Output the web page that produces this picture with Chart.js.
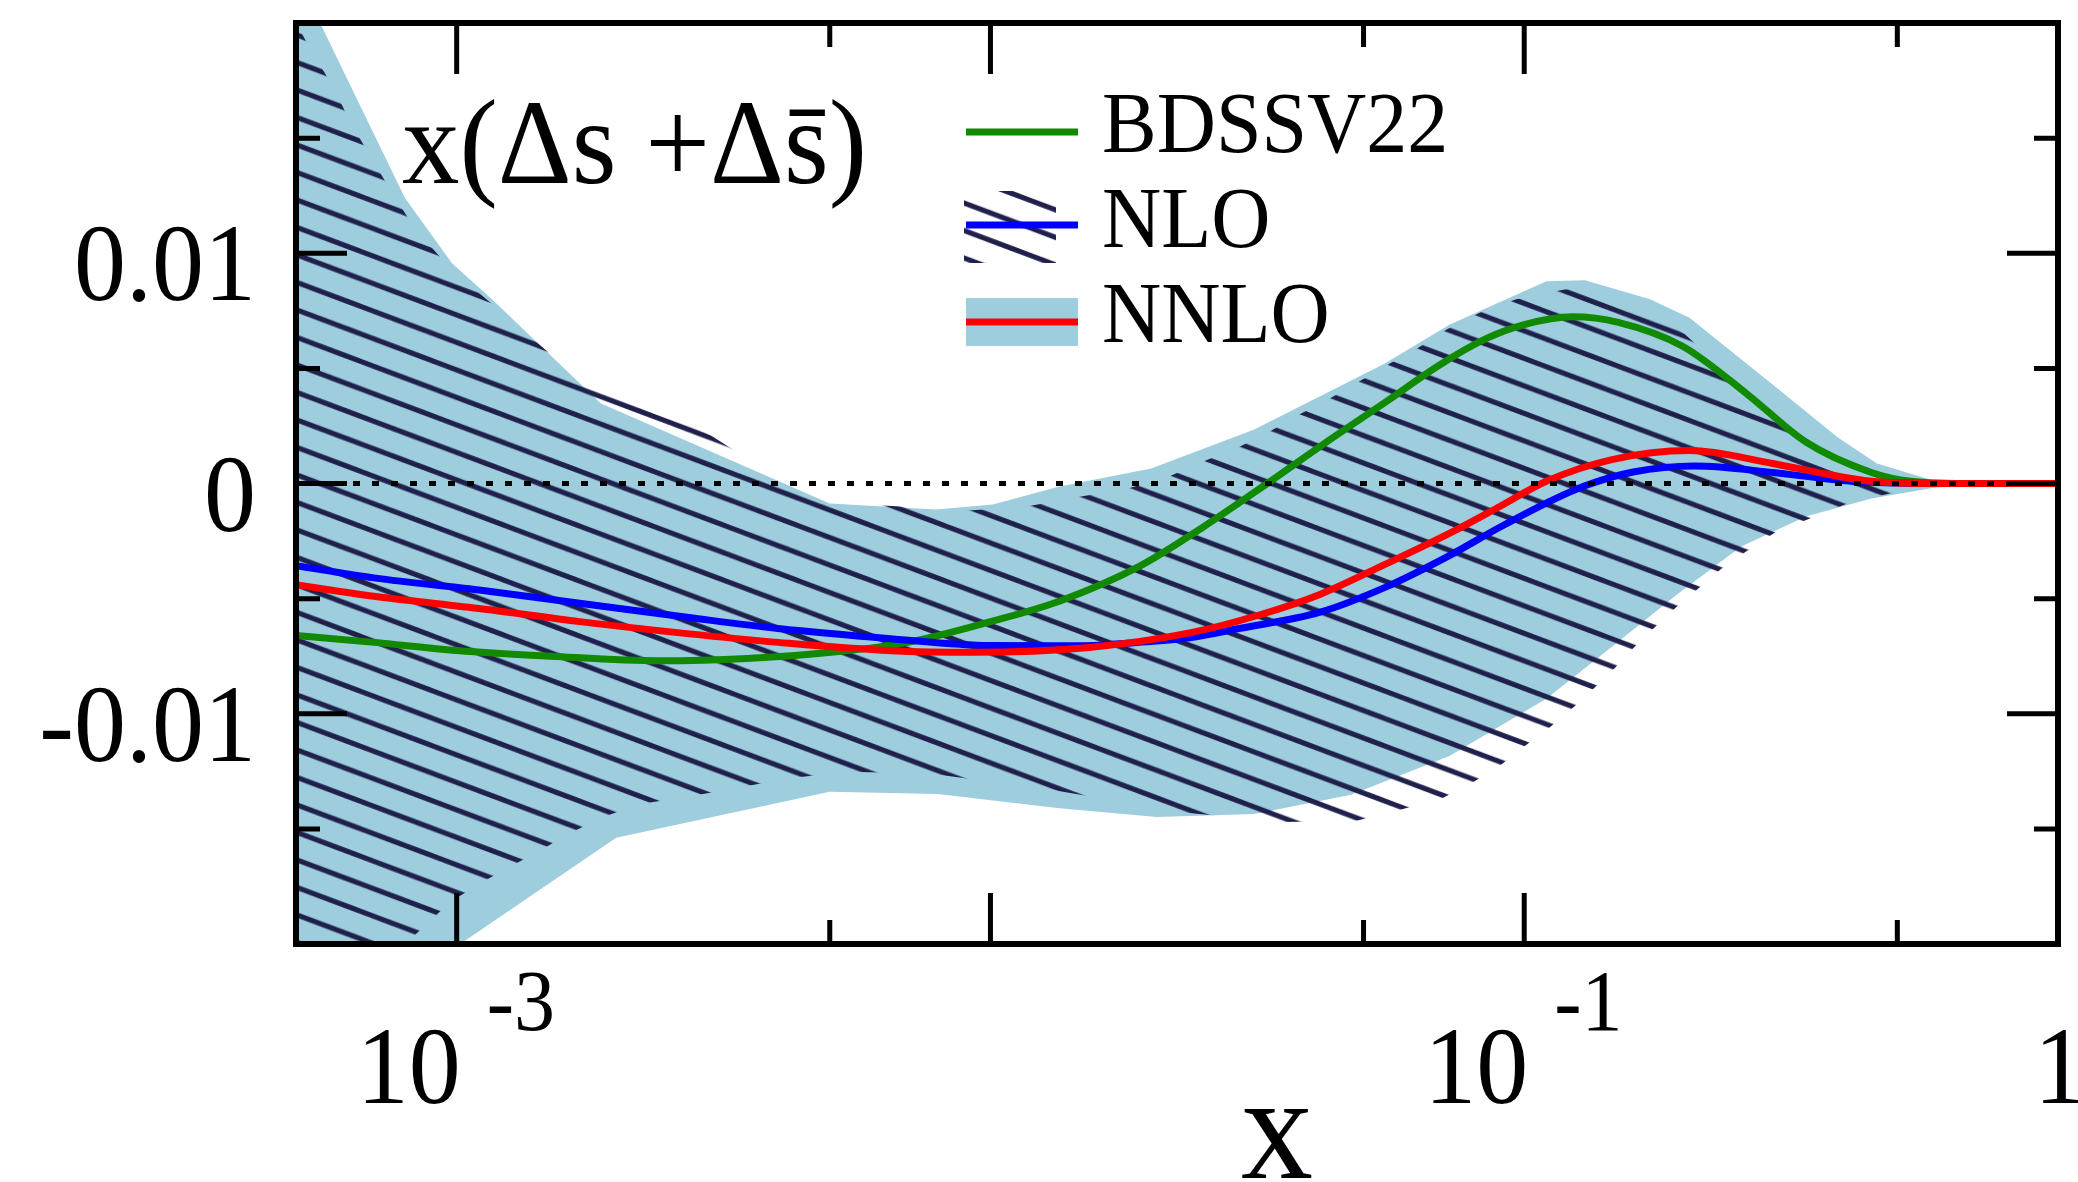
<!DOCTYPE html>
<html>
<head>
<meta charset="utf-8">
<script src="https://cdn.jsdelivr.net/npm/chart.js@4.4.0/dist/chart.umd.min.js"></script>
<style>
  html, body { margin: 0; padding: 0; background: #fff; }
  canvas { display: block; }
</style>
</head>
<body>
<canvas id="myChart" width="2078" height="1182"></canvas>
<script>
// central curves
const xBdssv = [5e-4, 7e-4, 1e-3, 1.5e-3, 2.4e-3, 3.5e-3, 5.2e-3, 7e-3, 0.01, 0.0135, 0.019, 0.025, 0.033, 0.042, 0.0547, 0.07, 0.085, 0.1, 0.123, 0.15, 0.198, 0.262, 0.337, 0.447, 0.53, 0.7, 1];
const bdssv22 = [-0.0066, -0.0069, -0.00725, -0.0075, -0.0077, -0.0076, -0.0073, -0.0069, -0.006, -0.0051, -0.0036, -0.0019, 0, 0.0017, 0.0035, 0.0052, 0.0063, 0.0069, 0.00724, 0.007, 0.00596, 0.00387, 0.0018, 0.00048, 0.0001, 0, 0];

const xNlo = [5e-4, 7e-4, 1.12e-3, 1.7e-3, 2.7e-3, 4e-3, 6.5e-3, 0.01, 0.0147, 0.019, 0.0236, 0.0292, 0.0413, 0.055, 0.0724, 0.09, 0.11, 0.13, 0.16, 0.209, 0.292, 0.37, 0.447, 0.6, 1];
const nlo = [-0.00357, -0.0041, -0.00465, -0.0052, -0.00581, -0.0063, -0.00674, -0.00704, -0.00705, -0.0069, -0.0067, -0.0063, -0.0056, -0.0045, -0.00313, -0.0019, -0.00085, -0.0001, 0.0005, 0.00076, 0.00048, 0.0002, 0.00005, 0, 0];

const xNnlo = [5e-4, 7e-4, 1.12e-3, 1.7e-3, 2.7e-3, 4e-3, 6.5e-3, 9.25e-3, 0.0153, 0.0236, 0.032, 0.0413, 0.055, 0.0724, 0.09, 0.11, 0.146, 0.204, 0.292, 0.37, 0.447, 0.6, 1];
const nnlo = [-0.0044, -0.0049, -0.00545, -0.006, -0.00652, -0.0069, -0.00726, -0.00733, -0.00712, -0.00649, -0.0057, -0.00483, -0.0035, -0.00217, -0.001, 0.0001, 0.00104, 0.00143, 0.00087, 0.0004, 0.0001, 0, 0];

// NLO uncertainty band (hatched)
const xNloUp = [5e-4, 5.37e-4, 5.88e-4, 6.33e-4, 6.93e-4, 7.55e-4, 8.34e-4, 9.75e-4, 1.24e-3, 1.61e-3, 2.99e-3, 4.2e-3, 5.75e-3, 9.1e-3, 0.0117, 0.0145, 0.0181, 0.0216, 0.0253, 0.0293, 0.0336, 0.0379, 0.0433, 0.0495, 0.0559, 0.0633, 0.0717, 0.0827, 0.0966, 0.119, 0.145, 0.2, 0.251, 0.313, 0.378, 0.5, 0.8, 1];
const nloUp = [0.02, 0.0187, 0.0172, 0.01565, 0.01413, 0.01265, 0.0111, 0.0093, 0.00726, 0.005, 0.0021, -0.0001, -0.0009, -0.00117, -0.001, -0.0006, -0.00022, 0.0003, 0.001, 0.0016, 0.0023, 0.003, 0.0037, 0.00448, 0.0052, 0.0059, 0.0067, 0.00743, 0.008, 0.00843, 0.0086, 0.00648, 0.00439, 0.00239, 0.00096, 0.0002, 0, 0];
const xNloLo = [5e-4, 8.1e-4, 8.9e-4, 9.75e-4, 1.1e-3, 1.25e-3, 1.42e-3, 1.61e-3, 1.85e-3, 2.19e-3, 2.71e-3, 3.38e-3, 4.2e-3, 5.4e-3, 7.76e-3, 0.013, 0.0233, 0.0354, 0.0485, 0.0586, 0.0705, 0.081, 0.091, 0.101, 0.112, 0.124, 0.136, 0.148, 0.161, 0.176, 0.193, 0.213, 0.234, 0.262, 0.295, 0.403, 0.484, 0.6, 0.8, 1];
const nloLo = [-0.025, -0.0199, -0.019, -0.01816, -0.01739, -0.01668, -0.01599, -0.01526, -0.01455, -0.01393, -0.01361, -0.0132, -0.0128, -0.01252, -0.01261, -0.0133, -0.0143, -0.0147, -0.01465, -0.01417, -0.01365, -0.01291, -0.01217, -0.01135, -0.01057, -0.0097, -0.00883, -0.008, -0.00709, -0.00622, -0.00535, -0.00452, -0.0037, -0.00291, -0.00213, -0.00087, -0.00043, -0.0001, 0, 0];

// NNLO uncertainty band (filled)
const xNnloUp = [5e-4, 5.6e-4, 8e-4, 9.8e-4, 1.17e-3, 1.86e-3, 5e-3, 7.9e-3, 0.0101, 0.01346, 0.02, 0.0312, 0.0547, 0.0724, 0.11, 0.13, 0.172, 0.204, 0.292, 0.387, 0.458, 0.59, 0.78, 1];
const nnloUp = [0.0222, 0.0198, 0.0124, 0.00957, 0.00796, 0.00348, -0.00087, -0.00113, -0.00091, -0.00013, 0.00065, 0.00235, 0.0052, 0.0069, 0.00878, 0.00883, 0.008, 0.0072, 0.0043, 0.002, 0.00087, 0.0001, 0, 0];
const xNnloLo = [5e-4, 1.03e-3, 1.99e-3, 5e-3, 7.96e-3, 0.01346, 0.0205, 0.0312, 0.0474, 0.0724, 0.11, 0.146, 0.193, 0.255, 0.337, 0.447, 0.59, 0.78, 1];
const nnloLo = [-0.0252, -0.0199, -0.01539, -0.01339, -0.01348, -0.0141, -0.01448, -0.01435, -0.01352, -0.01183, -0.00935, -0.00709, -0.00483, -0.00274, -0.00143, -0.00065, -0.00017, 0, 0];

// axis ticks
const xMajor = [1e-3, 1e-2, 1e-1, 1];
const xMinor = [5e-4, 5e-3, 5e-2, 5e-1];
const xLabelValues = [1e-3, 1e-1, 1];
const xLabelExps = ['-3', '-1', ''];
const yMajor = [-0.02, -0.01, 0, 0.01, 0.02];
const yMinor = [-0.015, -0.005, 0.005, 0.015];
const yLabelValues = [-0.01, 0, 0.01];
const yLabels = ['-0.01', '0', '0.01'];

const SERIF = '"Liberation Serif", "Times New Roman", serif';
const NAVY = '#20204c';
const LIGHTBLUE = '#9ecede';

const pts = (xs, ys) => xs.map((x, i) => ({ x: x, y: ys[i] }));

// diagonal hatching: 74x28 tile, rescaled to ~27.5px spacing
function hatchPattern() {
  const c = document.createElement('canvas');
  c.width = 74;
  c.height = 28;
  const g = c.getContext('2d');
  g.strokeStyle = NAVY;
  g.lineWidth = 5.3;
  for (let k = -1; k <= 1; k++) {
    g.beginPath();
    g.moveTo(-10, 7.5 + 28 * k - 10 * 28 / 74);
    g.lineTo(84, 7.5 + 28 * k + 84 * 28 / 74);
    g.stroke();
  }
  const p = g.createPattern(c, 'repeat');
  p.setTransform(new DOMMatrix([0.9894, 0, 0, 0.9821, 0, -1.47]));
  return p;
}
const hatch = hatchPattern();

// text slightly taller than the font's natural proportions
function text(ctx, str, x, y, size, align) {
  ctx.save();
  ctx.translate(x, y);
  ctx.scale(1, 1.05);
  ctx.font = size + 'px ' + SERIF;
  ctx.textAlign = align;
  ctx.textBaseline = 'alphabetic';
  ctx.fillText(str, 0, 0);
  ctx.restore();
}

// frame, inward ticks, tick labels, zero line, legend and titles
const decorations = {
  id: 'decorations',
  afterDatasetsDraw(chart) {
    const { ctx, chartArea: a, scales: { y } } = chart;
    const y0 = y.getPixelForValue(0);
    ctx.save();
    ctx.strokeStyle = '#000';
    ctx.lineWidth = 5;
    ctx.setLineDash([7, 12]);
    ctx.beginPath();
    ctx.moveTo(a.left, y0);
    ctx.lineTo(a.right, y0);
    ctx.stroke();
    ctx.restore();
  },
  afterDraw(chart) {
    const { ctx, chartArea: a, scales: { x, y } } = chart;
    ctx.save();

    // ticks
    ctx.strokeStyle = '#000';
    ctx.lineWidth = 5;
    const tickX = (v, len) => {
      const px = x.getPixelForValue(v);
      ctx.beginPath();
      ctx.moveTo(px, a.bottom); ctx.lineTo(px, a.bottom - len);
      ctx.moveTo(px, a.top); ctx.lineTo(px, a.top + len);
      ctx.stroke();
    };
    const tickY = (v, len) => {
      const py = y.getPixelForValue(v);
      ctx.beginPath();
      ctx.moveTo(a.left, py); ctx.lineTo(a.left + len, py);
      ctx.moveTo(a.right, py); ctx.lineTo(a.right - len, py);
      ctx.stroke();
    };
    xMajor.forEach(v => tickX(v, 51));
    xMinor.forEach(v => tickX(v, 24));
    yMajor.forEach(v => tickY(v, 51));
    yMinor.forEach(v => tickY(v, 24));

    // frame
    ctx.lineWidth = 6;
    ctx.strokeRect(a.left, a.top, a.right - a.left, a.bottom - a.top);

    // tick labels
    ctx.fillStyle = '#000';
    yLabelValues.forEach((v, i) => {
      text(ctx, yLabels[i], 256, y.getPixelForValue(v) + 47, 104, 'right');
    });
    xLabelValues.forEach((v, i) => {
      const px = x.getPixelForValue(v);
      if (xLabelExps[i]) {
        text(ctx, '10', px + 4, 1103, 104, 'right');
        text(ctx, xLabelExps[i], px + 30, 1030, 82, 'left');
      } else {
        text(ctx, '1', px + 2, 1103, 104, 'center');
      }
    });

    // axis title and panel title
    text(ctx, 'x', 1277, 1178, 144, 'center');
    text(ctx, 'x(\u0394s +\u0394s\u0304)', 402, 183, 115, 'left');

    // legend
    const ds = chart.data.datasets;
    const lx = 966, lw = 112;
    ctx.lineWidth = 7;
    ctx.strokeStyle = ds[2].borderColor;
    ctx.beginPath(); ctx.moveTo(lx, 132); ctx.lineTo(lx + lw, 132); ctx.stroke();

    ctx.fillStyle = hatch;
    ctx.fillRect(lx - 2, 191, 92, 72);
    ctx.strokeStyle = ds[1].borderColor;
    ctx.beginPath(); ctx.moveTo(lx, 225); ctx.lineTo(lx + lw, 225); ctx.stroke();

    ctx.fillStyle = LIGHTBLUE;
    ctx.fillRect(lx, 298, lw, 48);
    ctx.strokeStyle = ds[0].borderColor;
    ctx.beginPath(); ctx.moveTo(lx, 322); ctx.lineTo(lx + lw, 322); ctx.stroke();

    ctx.fillStyle = '#000';
    text(ctx, ds[2].label, 1102, 152, 82, 'left');
    text(ctx, ds[1].label, 1102, 247, 82, 'left');
    text(ctx, ds[0].label, 1102, 342, 82, 'left');
    ctx.restore();
  }
};

const curve = {
  fill: false,
  pointRadius: 0,
  borderWidth: 7,
  cubicInterpolationMode: 'monotone'
};
const edge = {
  pointRadius: 0,
  borderWidth: 0,
  borderColor: 'rgba(0,0,0,0)',
  tension: 0
};

const ctx = document.getElementById('myChart').getContext('2d');
const chart = new Chart(ctx, {
  type: 'line',
  data: {
    datasets: [
      { ...curve, label: 'NNLO', data: pts(xNnlo, nnlo), borderColor: '#ff0000' },
      { ...curve, label: 'NLO', data: pts(xNlo, nlo), borderColor: '#0000ff' },
      { ...curve, label: 'BDSSV22', data: pts(xBdssv, bdssv22), borderColor: '#128a00' },
      { ...edge, label: 'NLO upper', data: pts(xNloUp, nloUp), fill: '+1', backgroundColor: hatch },
      { ...edge, label: 'NLO lower', data: pts(xNloLo, nloLo), fill: false },
      { ...edge, label: 'NNLO upper', data: pts(xNnloUp, nnloUp), fill: '+1', backgroundColor: LIGHTBLUE },
      { ...edge, label: 'NNLO lower', data: pts(xNnloLo, nnloLo), fill: false }
    ]
  },
  options: {
    responsive: false,
    animation: false,
    devicePixelRatio: 1,
    layout: {
      padding: { left: 296, right: 20, top: 23, bottom: 238 }
    },
    plugins: {
      legend: { display: false },
      tooltip: { enabled: false }
    },
    scales: {
      x: {
        type: 'logarithmic',
        min: 5e-4,
        max: 1,
        display: false
      },
      y: {
        min: -0.02,
        max: 0.02,
        display: false
      }
    }
  },
  plugins: [decorations]
});
</script>
</body>
</html>
